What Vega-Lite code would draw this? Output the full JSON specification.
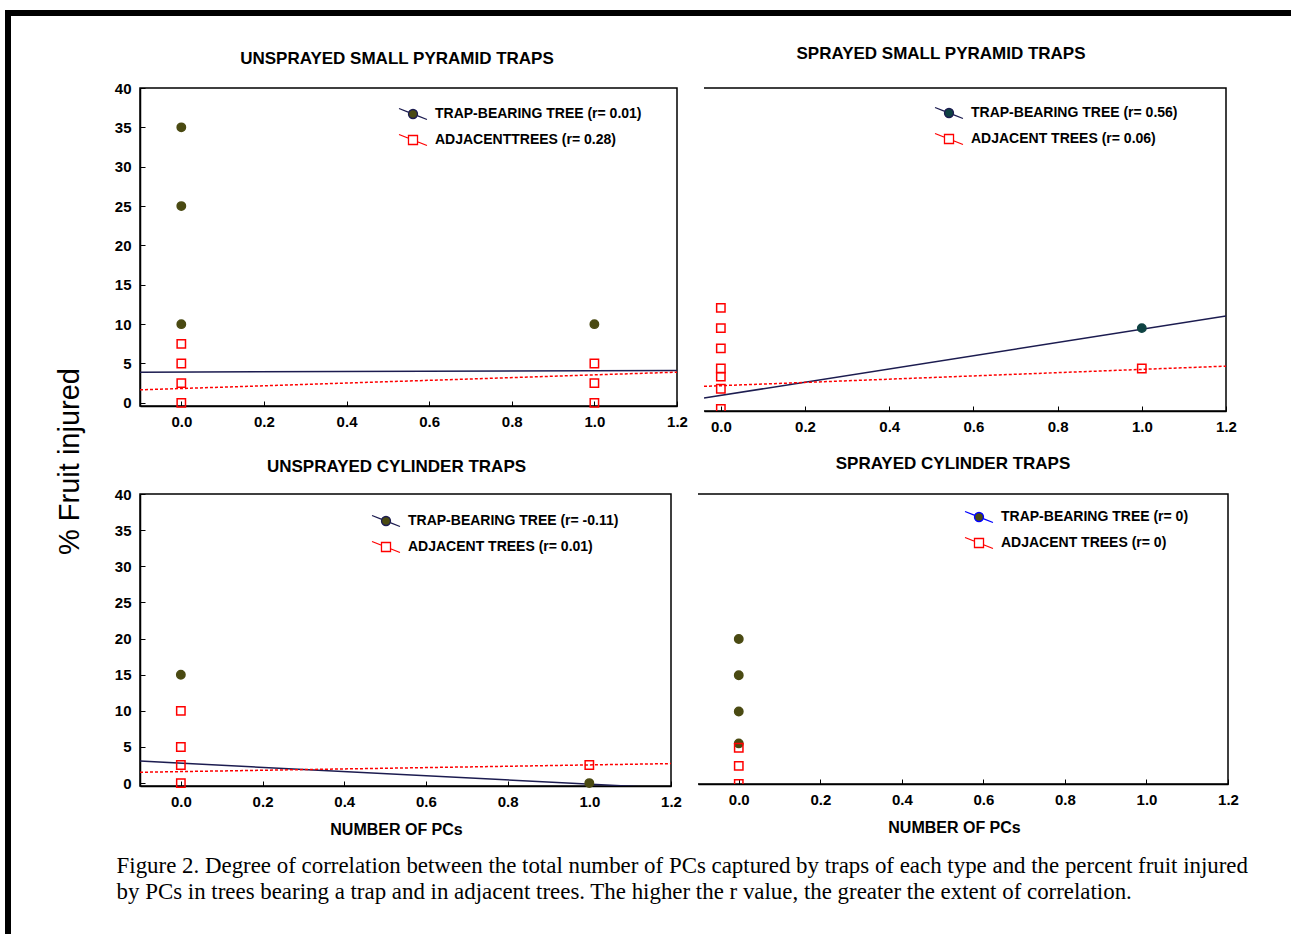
{
  "$schema": "https://vega.github.io/schema/vega-lite/v6.json",
  "background": "white",
  "padding": {"left": 5, "top": 10, "right": 0, "bottom": 0},
  "config": {
    "view": {"stroke": "black", "strokeWidth": 1.5},
    "axis": {"grid": false, "labelFont": "Liberation Sans", "labelFontSize": 15, "labelFontWeight": "bold", "labelColor": "black", "labelFlush": false, "labelOverlap": false, "domainColor": "black", "domainWidth": 1.5, "tickColor": "black", "tickWidth": 1, "tickSize": -5, "titleFont": "Liberation Sans", "titleFontSize": 16, "titleFontWeight": "bold", "titleColor": "black", "titlePadding": 12},
    "axisX": {"labelPadding": 13},
    "axisY": {"labelPadding": 14},
    "legend": {"orient": "none", "title": null, "padding": 0, "symbolSize": 484, "labelOffset": 10, "rowPadding": 5, "labelFont": "Liberation Sans", "labelFontSize": 14, "labelFontWeight": "bold", "labelColor": "black", "labelLimit": 500, "symbolStrokeWidth": 1.3}
  },
  "datasets": {
    "points": [
      {"panel": "TL", "type": "trap", "series": "TRAP-BEARING TREE (r= 0.01)", "x": 0, "y": 35},
      {"panel": "TL", "type": "trap", "series": "TRAP-BEARING TREE (r= 0.01)", "x": 0, "y": 25},
      {"panel": "TL", "type": "trap", "series": "TRAP-BEARING TREE (r= 0.01)", "x": 0, "y": 10},
      {"panel": "TL", "type": "trap", "series": "TRAP-BEARING TREE (r= 0.01)", "x": 1, "y": 10},
      {"panel": "TL", "type": "adj", "series": "ADJACENTTREES (r= 0.28)", "x": 0, "y": 7.5},
      {"panel": "TL", "type": "adj", "series": "ADJACENTTREES (r= 0.28)", "x": 0, "y": 5},
      {"panel": "TL", "type": "adj", "series": "ADJACENTTREES (r= 0.28)", "x": 0, "y": 2.5},
      {"panel": "TL", "type": "adj", "series": "ADJACENTTREES (r= 0.28)", "x": 0, "y": 0},
      {"panel": "TL", "type": "adj", "series": "ADJACENTTREES (r= 0.28)", "x": 1, "y": 5},
      {"panel": "TL", "type": "adj", "series": "ADJACENTTREES (r= 0.28)", "x": 1, "y": 2.5},
      {"panel": "TL", "type": "adj", "series": "ADJACENTTREES (r= 0.28)", "x": 1, "y": 0},
      {"panel": "TR", "type": "trap", "series": "TRAP-BEARING TREE (r= 0.56)", "x": 1, "y": 10},
      {"panel": "TR", "type": "adj", "series": "ADJACENT TREES (r= 0.06)", "x": 0, "y": 12.5},
      {"panel": "TR", "type": "adj", "series": "ADJACENT TREES (r= 0.06)", "x": 0, "y": 10},
      {"panel": "TR", "type": "adj", "series": "ADJACENT TREES (r= 0.06)", "x": 0, "y": 7.5},
      {"panel": "TR", "type": "adj", "series": "ADJACENT TREES (r= 0.06)", "x": 0, "y": 5},
      {"panel": "TR", "type": "adj", "series": "ADJACENT TREES (r= 0.06)", "x": 0, "y": 4},
      {"panel": "TR", "type": "adj", "series": "ADJACENT TREES (r= 0.06)", "x": 0, "y": 2.5},
      {"panel": "TR", "type": "adj", "series": "ADJACENT TREES (r= 0.06)", "x": 0, "y": 0},
      {"panel": "TR", "type": "adj", "series": "ADJACENT TREES (r= 0.06)", "x": 1, "y": 5},
      {"panel": "BL", "type": "trap", "series": "TRAP-BEARING TREE (r= -0.11)", "x": 0, "y": 15},
      {"panel": "BL", "type": "trap", "series": "TRAP-BEARING TREE (r= -0.11)", "x": 1, "y": 0},
      {"panel": "BL", "type": "adj", "series": "ADJACENT TREES (r= 0.01)", "x": 0, "y": 10},
      {"panel": "BL", "type": "adj", "series": "ADJACENT TREES (r= 0.01)", "x": 0, "y": 5},
      {"panel": "BL", "type": "adj", "series": "ADJACENT TREES (r= 0.01)", "x": 0, "y": 2.5},
      {"panel": "BL", "type": "adj", "series": "ADJACENT TREES (r= 0.01)", "x": 0, "y": 0},
      {"panel": "BL", "type": "adj", "series": "ADJACENT TREES (r= 0.01)", "x": 1, "y": 2.5},
      {"panel": "BR", "type": "trap", "series": "TRAP-BEARING TREE (r= 0)", "x": 0, "y": 20},
      {"panel": "BR", "type": "trap", "series": "TRAP-BEARING TREE (r= 0)", "x": 0, "y": 15},
      {"panel": "BR", "type": "trap", "series": "TRAP-BEARING TREE (r= 0)", "x": 0, "y": 10},
      {"panel": "BR", "type": "trap", "series": "TRAP-BEARING TREE (r= 0)", "x": 0, "y": 5.6},
      {"panel": "BR", "type": "adj", "series": "ADJACENT TREES (r= 0)", "x": 0, "y": 5},
      {"panel": "BR", "type": "adj", "series": "ADJACENT TREES (r= 0)", "x": 0, "y": 2.5},
      {"panel": "BR", "type": "adj", "series": "ADJACENT TREES (r= 0)", "x": 0, "y": 0}
    ],
    "lines": [
      {"panel": "TL", "type": "trap", "x": -0.1, "y": 3.9},
      {"panel": "TL", "type": "trap", "x": 1.2, "y": 4.1},
      {"panel": "TL", "type": "adj", "x": -0.1, "y": 1.65},
      {"panel": "TL", "type": "adj", "x": 1.2, "y": 3.9},
      {"panel": "TR", "type": "trap", "x": -0.04, "y": 1.35},
      {"panel": "TR", "type": "trap", "x": 1.2, "y": 11.5},
      {"panel": "TR", "type": "adj", "x": -0.04, "y": 2.8},
      {"panel": "TR", "type": "adj", "x": 1.2, "y": 5.3},
      {"panel": "BL", "type": "trap", "x": -0.1, "y": 3.05},
      {"panel": "BL", "type": "trap", "x": 1.2, "y": -0.72},
      {"panel": "BL", "type": "adj", "x": -0.1, "y": 1.5},
      {"panel": "BL", "type": "adj", "x": 1.2, "y": 2.7}
    ]
  },
  "spacing": 0,
  "hconcat": [
    {"width": 6, "height": 924, "view": {"fill": "black", "stroke": null}, "data": {"values": []}, "mark": "point"},
    {
      "spacing": 27,
      "vconcat": [
        {"width": 1280, "height": 6, "view": {"fill": "black", "stroke": null}, "data": {"values": []}, "mark": "point"},
        {
          "spacing": 29,
          "hconcat": [
            {
              "width": 40, "height": 746, "view": {"stroke": null},
              "data": {"values": [{"v": 0}]},
              "mark": {"type": "point", "opacity": 0},
              "encoding": {"y": {"field": "v", "type": "quantitative", "axis": {"orient": "right", "title": "% Fruit injured", "labels": false, "ticks": false, "domain": false, "grid": false, "titleAngle": 270, "titleBaseline": "top", "titlePadding": 4, "titleFont": "Liberation Sans", "titleFontSize": 29, "titleFontWeight": "normal", "titleColor": "black"}}}
            },
            {
              "spacing": 18,
              "title": {"text": ["Figure 2. Degree of correlation between the total number of PCs captured by traps of each type and the percent fruit injured", "by PCs in trees bearing a trap and in adjacent trees. The higher the r value, the greater the extent of correlation."], "orient": "bottom", "anchor": "start", "frame": "bounds", "font": "Liberation Serif", "fontSize": 22.9, "fontWeight": "normal", "lineHeight": 26, "offset": 17, "color": "black", "dx": 3},
              "resolve": {"scale": {"x": "independent", "y": "independent", "shape": "independent", "fill": "independent", "stroke": "independent"}, "legend": {"shape": "independent", "fill": "independent", "stroke": "independent"}},
              "vconcat": [
                {
                  "spacing": 14,
                  "resolve": {"scale": {"x": "independent", "y": "independent", "shape": "independent", "fill": "independent", "stroke": "independent"}, "legend": {"shape": "independent", "fill": "independent", "stroke": "independent"}},
                  "hconcat": [
                    {
                      "width": 537, "height": 318,
                      "title": {"text": "UNSPRAYED SMALL PYRAMID TRAPS", "font": "Liberation Sans", "fontSize": 17, "fontWeight": "bold", "color": "black", "offset": 13, "dx": -11.5},
                      "resolve": {"scale": {"shape": "independent", "fill": "independent", "stroke": "independent"}},
                      "encoding": {
                        "x": {"field": "x", "type": "quantitative", "scale": {"domain": [-0.1, 1.2], "nice": false, "zero": false}, "axis": {"values": [0, 0.2, 0.4, 0.6, 0.8, 1, 1.2], "format": ".1f", "title": null}},
                        "y": {"field": "y", "type": "quantitative", "scale": {"domain": [-0.4, 40], "nice": false, "zero": false}, "axis": {"values": [0, 5, 10, 15, 20, 25, 30, 35, 40], "title": null}}
                      },
                      "layer": [
                        {"data": {"name": "lines"}, "transform": [{"filter": "datum.panel === 'TL' && datum.type === 'trap'"}], "mark": {"type": "line", "color": "#1c1c50", "strokeWidth": 1.5, "clip": true}},
                        {"data": {"name": "lines"}, "transform": [{"filter": "datum.panel === 'TL' && datum.type === 'adj'"}], "mark": {"type": "line", "color": "#ff0000", "strokeWidth": 1.5, "strokeDash": [3, 2], "clip": true}},
                        {"data": {"name": "points"}, "transform": [{"filter": "datum.panel === 'TL'"}], "mark": {"type": "point", "size": 70, "strokeWidth": 1.5, "opacity": 1},
                          "encoding": {
                            "shape": {"field": "series", "type": "nominal", "sort": "descending", "scale": {"range": ["circle", "square"]}, "legend": null},
                            "fill": {"field": "series", "type": "nominal", "sort": "descending", "scale": {"range": ["#4a4a12", "transparent"]}, "legend": null},
                            "stroke": {"field": "series", "type": "nominal", "sort": "descending", "scale": {"range": ["#4a4a12", "#ff0000"]}, "legend": null}
                          }},
                        {"data": {"name": "points"}, "transform": [{"filter": "datum.panel === 'TL'"}], "mark": {"type": "point", "size": 0, "opacity": 1},
                          "encoding": {
                            "shape": {"field": "series", "type": "nominal", "sort": "descending", "scale": {"range": ["M-1.27,-0.5L-0.38,-0.15M0.38,0.15L1.27,0.5M0.41,0A0.41,0.41,0,1,1,-0.41,0A0.41,0.41,0,1,1,0.41,0Z", "M-1.27,-0.5L-0.41,-0.16M0.41,0.16L1.27,0.5M-0.41,-0.41L0.41,-0.41L0.41,0.41L-0.41,0.41Z"]}, "legend": {"legendX": 261, "legendY": 14}},
                            "fill": {"field": "series", "type": "nominal", "sort": "descending", "scale": {"range": ["#4a4a12", "white"]}},
                            "stroke": {"field": "series", "type": "nominal", "sort": "descending", "scale": {"range": ["#1c1c50", "#ff0000"]}}
                          }}
                      ]
                    },
                    {
                      "width": 522, "height": 323,
                      "view": {"stroke": "black", "strokeWidth": 1.5, "strokeDash": [1367, 323]},
                      "title": {"text": "SPRAYED SMALL PYRAMID TRAPS", "font": "Liberation Sans", "fontSize": 17, "fontWeight": "bold", "color": "black", "offset": 25.5, "dx": -24},
                      "resolve": {"scale": {"shape": "independent", "fill": "independent", "stroke": "independent"}},
                      "encoding": {
                        "x": {"field": "x", "type": "quantitative", "scale": {"domain": [-0.04, 1.2], "nice": false, "zero": false}, "axis": {"values": [0, 0.2, 0.4, 0.6, 0.8, 1, 1.2], "format": ".1f", "title": null}},
                        "y": {"field": "y", "type": "quantitative", "scale": {"domain": [-0.25, 39.7], "nice": false, "zero": false}, "axis": null}
                      },
                      "layer": [
                        {"data": {"name": "lines"}, "transform": [{"filter": "datum.panel === 'TR' && datum.type === 'trap'"}], "mark": {"type": "line", "color": "#1c1c50", "strokeWidth": 1.5, "clip": true}},
                        {"data": {"name": "lines"}, "transform": [{"filter": "datum.panel === 'TR' && datum.type === 'adj'"}], "mark": {"type": "line", "color": "#ff0000", "strokeWidth": 1.5, "strokeDash": [3, 2], "clip": true}},
                        {"data": {"name": "points"}, "transform": [{"filter": "datum.panel === 'TR'"}], "mark": {"type": "point", "size": 70, "strokeWidth": 1.5, "opacity": 1, "clip": true},
                          "encoding": {
                            "shape": {"field": "series", "type": "nominal", "sort": "descending", "scale": {"range": ["circle", "square"]}, "legend": null},
                            "fill": {"field": "series", "type": "nominal", "sort": "descending", "scale": {"range": ["#0e4242", "transparent"]}, "legend": null},
                            "stroke": {"field": "series", "type": "nominal", "sort": "descending", "scale": {"range": ["#0e4242", "#ff0000"]}, "legend": null}
                          }},
                        {"data": {"name": "points"}, "transform": [{"filter": "datum.panel === 'TR'"}], "mark": {"type": "point", "size": 0, "opacity": 1},
                          "encoding": {
                            "shape": {"field": "series", "type": "nominal", "sort": "descending", "scale": {"range": ["M-1.27,-0.5L-0.38,-0.15M0.38,0.15L1.27,0.5M0.41,0A0.41,0.41,0,1,1,-0.41,0A0.41,0.41,0,1,1,0.41,0Z", "M-1.27,-0.5L-0.41,-0.16M0.41,0.16L1.27,0.5M-0.41,-0.41L0.41,-0.41L0.41,0.41L-0.41,0.41Z"]}, "legend": {"legendX": 233, "legendY": 13}},
                            "fill": {"field": "series", "type": "nominal", "sort": "descending", "scale": {"range": ["#0e4242", "white"]}},
                            "stroke": {"field": "series", "type": "nominal", "sort": "descending", "scale": {"range": ["#1c1c50", "#ff0000"]}}
                          }}
                      ]
                    }
                  ]
                },
                {
                  "spacing": 14,
                  "resolve": {"scale": {"x": "independent", "y": "independent", "shape": "independent", "fill": "independent", "stroke": "independent"}, "legend": {"shape": "independent", "fill": "independent", "stroke": "independent"}},
                  "hconcat": [
                    {
                      "width": 531, "height": 292,
                      "title": {"text": "UNSPRAYED CYLINDER TRAPS", "font": "Liberation Sans", "fontSize": 17, "fontWeight": "bold", "color": "black", "offset": 11, "dx": -9},
                      "resolve": {"scale": {"shape": "independent", "fill": "independent", "stroke": "independent"}},
                      "encoding": {
                        "x": {"field": "x", "type": "quantitative", "scale": {"domain": [-0.1, 1.2], "nice": false, "zero": false}, "axis": {"values": [0, 0.2, 0.4, 0.6, 0.8, 1, 1.2], "format": ".1f", "title": "NUMBER OF PCs", "titleX": 256}},
                        "y": {"field": "y", "type": "quantitative", "scale": {"domain": [-0.4, 40], "nice": false, "zero": false}, "axis": {"values": [0, 5, 10, 15, 20, 25, 30, 35, 40], "title": null}}
                      },
                      "layer": [
                        {"data": {"name": "lines"}, "transform": [{"filter": "datum.panel === 'BL' && datum.type === 'trap'"}], "mark": {"type": "line", "color": "#1c1c50", "strokeWidth": 1.5, "clip": true}},
                        {"data": {"name": "lines"}, "transform": [{"filter": "datum.panel === 'BL' && datum.type === 'adj'"}], "mark": {"type": "line", "color": "#ff0000", "strokeWidth": 1.5, "strokeDash": [3, 2], "clip": true}},
                        {"data": {"name": "points"}, "transform": [{"filter": "datum.panel === 'BL'"}], "mark": {"type": "point", "size": 70, "strokeWidth": 1.5, "opacity": 1},
                          "encoding": {
                            "shape": {"field": "series", "type": "nominal", "sort": "descending", "scale": {"range": ["circle", "square"]}, "legend": null},
                            "fill": {"field": "series", "type": "nominal", "sort": "descending", "scale": {"range": ["#4a4a12", "transparent"]}, "legend": null},
                            "stroke": {"field": "series", "type": "nominal", "sort": "descending", "scale": {"range": ["#4a4a12", "#ff0000"]}, "legend": null}
                          }},
                        {"data": {"name": "points"}, "transform": [{"filter": "datum.panel === 'BL'"}], "mark": {"type": "point", "size": 0, "opacity": 1},
                          "encoding": {
                            "shape": {"field": "series", "type": "nominal", "sort": "descending", "scale": {"range": ["M-1.27,-0.5L-0.38,-0.15M0.38,0.15L1.27,0.5M0.41,0A0.41,0.41,0,1,1,-0.41,0A0.41,0.41,0,1,1,0.41,0Z", "M-1.27,-0.5L-0.41,-0.16M0.41,0.16L1.27,0.5M-0.41,-0.41L0.41,-0.41L0.41,0.41L-0.41,0.41Z"]}, "legend": {"legendX": 234, "legendY": 15}},
                            "fill": {"field": "series", "type": "nominal", "sort": "descending", "scale": {"range": ["#4a4a12", "white"]}},
                            "stroke": {"field": "series", "type": "nominal", "sort": "descending", "scale": {"range": ["#1c1c50", "#ff0000"]}}
                          }}
                      ]
                    },
                    {
                      "width": 530, "height": 290,
                      "view": {"stroke": "black", "strokeWidth": 1.5, "strokeDash": [1350, 290]},
                      "title": {"text": "SPRAYED CYLINDER TRAPS", "font": "Liberation Sans", "fontSize": 17, "fontWeight": "bold", "color": "black", "offset": 21.5, "dx": -10},
                      "resolve": {"scale": {"shape": "independent", "fill": "independent", "stroke": "independent"}},
                      "encoding": {
                        "x": {"field": "x", "type": "quantitative", "scale": {"domain": [-0.1, 1.2], "nice": false, "zero": false}, "axis": {"values": [0, 0.2, 0.4, 0.6, 0.8, 1, 1.2], "format": ".1f", "title": "NUMBER OF PCs", "titleX": 256}},
                        "y": {"field": "y", "type": "quantitative", "scale": {"domain": [0, 40], "nice": false, "zero": false}, "axis": null}
                      },
                      "layer": [
                        {"data": {"name": "points"}, "transform": [{"filter": "datum.panel === 'BR'"}], "mark": {"type": "point", "size": 70, "strokeWidth": 1.5, "opacity": 1, "clip": true},
                          "encoding": {
                            "shape": {"field": "series", "type": "nominal", "sort": "descending", "scale": {"range": ["circle", "square"]}, "legend": null},
                            "fill": {"field": "series", "type": "nominal", "sort": "descending", "scale": {"range": ["#4a4a12", "transparent"]}, "legend": null},
                            "stroke": {"field": "series", "type": "nominal", "sort": "descending", "scale": {"range": ["#4a4a12", "#ff0000"]}, "legend": null}
                          }},
                        {"data": {"name": "points"}, "transform": [{"filter": "datum.panel === 'BR'"}], "mark": {"type": "point", "size": 0, "opacity": 1},
                          "encoding": {
                            "shape": {"field": "series", "type": "nominal", "sort": "descending", "scale": {"range": ["M-1.27,-0.5L-0.38,-0.15M0.38,0.15L1.27,0.5M0.41,0A0.41,0.41,0,1,1,-0.41,0A0.41,0.41,0,1,1,0.41,0Z", "M-1.27,-0.5L-0.41,-0.16M0.41,0.16L1.27,0.5M-0.41,-0.41L0.41,-0.41L0.41,0.41L-0.41,0.41Z"]}, "legend": {"legendX": 269, "legendY": 11}},
                            "fill": {"field": "series", "type": "nominal", "sort": "descending", "scale": {"range": ["#4a4a12", "white"]}},
                            "stroke": {"field": "series", "type": "nominal", "sort": "descending", "scale": {"range": ["#0000ff", "#ff0000"]}}
                          }}
                      ]
                    }
                  ]
                }
              ]
            }
          ]
        }
      ]
    }
  ]
}
